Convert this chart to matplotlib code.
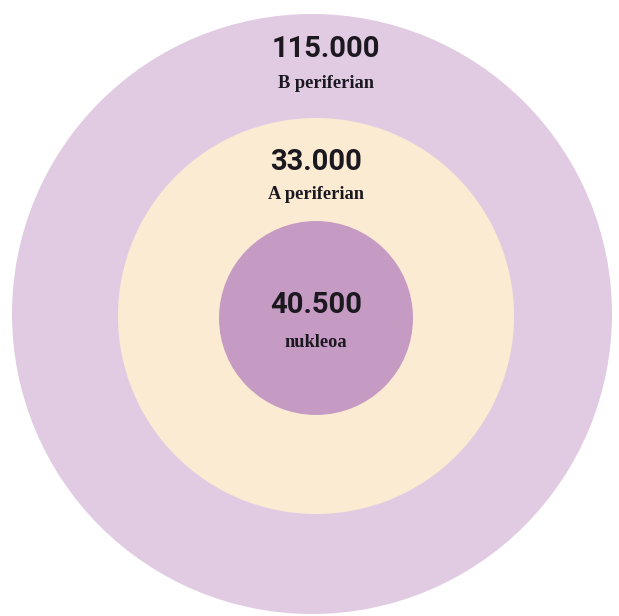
import matplotlib
matplotlib.use("Agg")
import matplotlib.pyplot as plt
from matplotlib.patches import Circle

# Data: one value per ring, outermost first
rings = ["B periferian", "A periferian", "nukleoa"]
values = ["115.000", "33.000", "40.500"]

# Layout (pixel coordinates, y pointing down)
centers = [(312, 314), (316, 316), (316, 318)]
radii = [300, 198, 97]
colors = ["#e1cbe2", "#fcebd3", "#c59bc4"]
label_x = [326, 316, 316]
value_baseline = [57, 170, 313]
name_baseline = [88, 199, 347]

W, H = 619, 616
fig = plt.figure(figsize=(W / 100, H / 100), dpi=100)
ax = fig.add_axes([0, 0, 1, 1])
ax.set_xlim(0, W)
ax.set_ylim(H, 0)
ax.set_aspect("equal")
ax.axis("off")

for (cx, cy), r, c in zip(centers, radii, colors):
    ax.add_patch(Circle((cx, cy), r, facecolor=c, edgecolor="none"))

text_color = "#1b1820"
for name, val, x, yb_v, yb_n in zip(rings, values, label_x, value_baseline, name_baseline):
    ax.text(x, yb_v, val, ha="center", va="baseline", fontsize=21,
            fontweight="bold", family="Roboto", color=text_color)
    ax.text(x, yb_n, name, ha="center", va="baseline", fontsize=13.2,
            fontweight="bold", family="Liberation Serif", color=text_color)

fig.savefig("out.png", dpi=100)
